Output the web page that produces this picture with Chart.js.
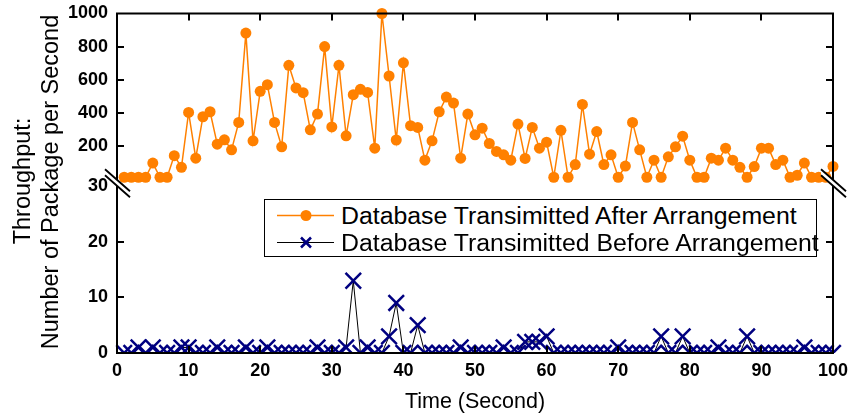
<!DOCTYPE html>
<html><head><meta charset="utf-8">
<script src="https://cdn.jsdelivr.net/npm/chart.js@4/dist/chart.umd.min.js"></script>
<style>
html,body{margin:0;padding:0;background:#fff;}
#wrap{position:relative;width:853px;height:419px;overflow:hidden;font-family:Arial,"Liberation Sans",sans-serif;color:#000;}
#c{position:absolute;left:0;top:0;}
.rot{position:absolute;white-space:nowrap;transform:translate(-50%,-50%) rotate(-90deg);font-size:23.5px;line-height:1;}
#legend{position:absolute;left:264px;top:199px;width:553px;height:58px;border:1px solid #000;background:#fff;box-sizing:border-box;}
.row{position:absolute;left:0;height:27px;width:100%;}
.row svg{position:absolute;left:11px;top:0;}
.row span{position:absolute;left:76px;top:1px;font-size:23px;line-height:26px;white-space:nowrap;transform:scaleX(1.08);transform-origin:0 50%;}
</style></head>
<body><div id="wrap">
<canvas id="c" width="853" height="419"></canvas>
<div class="rot" style="left:23px;top:181px;">Throughput:</div>
<div class="rot" style="left:51px;top:182px;">Number of Package per Second</div>
<div id="legend">
  <div class="row" style="top:2px"><svg width="62" height="27"><line x1="1" y1="13.5" x2="58" y2="13.5" stroke="#FF8000" stroke-width="1.5"/><circle cx="30" cy="13.5" r="5.5" fill="#FF8000"/></svg><span id="l1"></span></div>
  <div class="row" style="top:29px"><svg width="62" height="27"><line x1="1" y1="13.5" x2="58" y2="13.5" stroke="#000" stroke-width="1"/><path d="M25 8.5 L35 18.5 M35 8.5 L25 18.5" stroke="#000080" stroke-width="2.5"/></svg><span id="l2"></span></div>
</div>
</div>
<script>
// ---- data ----
const seriesNames = ["Database Transimitted After Arrangement", "Database Transimitted Before Arrangement"];
const seconds = [1,2,3,4,5,6,7,8,9,10,11,12,13,14,15,16,17,18,19,20,21,22,23,24,25,26,27,28,29,30,31,32,33,34,35,36,37,38,39,40,41,42,43,44,45,46,47,48,49,50,51,52,53,54,55,56,57,58,59,60,61,62,63,64,65,66,67,68,69,70,71,72,73,74,75,76,77,78,79,80,81,82,83,84,85,86,87,88,89,90,91,92,93,94,95,96,97,98,99,100];
const afterArrangement = [15,15,15,15,100,15,15,145,75,405,130,379,409,214,240,180,345,882,234,532,572,345,198,688,552,524,300,395,801,318,688,264,512,544,525,190,1000,624,239,703,325,315,118,234,409,497,461,130,395,270,310,218,170,150,118,335,128,315,190,226,15,297,15,91,453,154,290,91,150,15,82,345,180,15,118,15,138,198,262,118,15,15,130,118,190,118,75,15,79,190,190,91,118,15,27,100,15,15,15,80];
const beforeArrangement = [0,0,1,0,1,0,0,0,1,1,0,0,0,1,0,0,0,1,0,0,1,0,0,0,0,0,0,1,0,0,0,1,13,0,1,0,0,3,9,0,0,5,0,0,0,0,0,1,0,0,0,0,0,1,0,0,2,2,2,3,0,0,0,0,0,0,0,0,0,1,0,0,0,0,0,3,0,0,3,0,0,0,0,1,0,0,0,3,0,0,0,0,0,0,0,1,0,0,0,0];
const xTicks = [0,10,20,30,40,50,60,70,80,90,100];
const upperTicks = [200,400,600,800,1000];
const lowerTicks = [0,10,20,30];

document.getElementById('l1').textContent = seriesNames[0];
document.getElementById('l2').textContent = seriesNames[1];

const tickFont = {family:'Arial, "Liberation Sans", sans-serif', size:18, weight:'bold'};

const frame = {
  id:'frame',
  afterDraw(chart){
    const {ctx, chartArea:a, scales} = chart;
    ctx.save();
    ctx.strokeStyle='#000'; ctx.lineWidth=2; ctx.lineCap='butt';
    ctx.strokeRect(a.left,a.top,a.right-a.left,a.bottom-a.top);
    const L=7;
    ctx.beginPath();
    scales.yTop.ticks.forEach(t=>{
      const y=Math.round(scales.yTop.getPixelForValue(t.value));
      if (y<=a.top+2) return;
      ctx.moveTo(a.left,y);ctx.lineTo(a.left+L,y);
      ctx.moveTo(a.right,y);ctx.lineTo(a.right-L,y);
    });
    scales.yBot.ticks.forEach(t=>{
      const y=Math.round(scales.yBot.getPixelForValue(t.value));
      if (y>=a.bottom-2 || t.value>=30) return;
      ctx.moveTo(a.left,y);ctx.lineTo(a.left+L,y);
      ctx.moveTo(a.right,y);ctx.lineTo(a.right-L,y);
    });
    scales.x.ticks.forEach(t=>{
      const x=Math.round(scales.x.getPixelForValue(t.value));
      if (x<=a.left+2||x>=a.right-2) return;
      ctx.moveTo(x,a.bottom);ctx.lineTo(x,a.bottom-L);
      ctx.moveTo(x,a.top);ctx.lineTo(x,a.top+L);
    });
    ctx.stroke();
    // axis break marks
    const yb = scales.yBot.top - 3;
    [a.left, a.right].forEach(xc=>{
      ctx.save();
      ctx.translate(xc,yb);
      ctx.fillStyle='#fff';
      ctx.beginPath();
      ctx.moveTo(-12,-14);ctx.lineTo(13,8);ctx.lineTo(13,14);ctx.lineTo(-12,-8);ctx.closePath();
      ctx.fill();
      ctx.strokeStyle='#000';ctx.lineWidth=1.8;
      ctx.beginPath();
      ctx.moveTo(-12,-14);ctx.lineTo(13,8);
      ctx.moveTo(-12,-8);ctx.lineTo(13,14);
      ctx.stroke();
      ctx.restore();
    });
    ctx.restore();
  }
};

const fixY = s=>{ s.width=117; s.paddingTop=0; s.paddingBottom=0; };
const plain = v=>String(v);
new Chart(document.getElementById('c'), {
  type:'line',
  data:{
    datasets:[
      {label:seriesNames[0], yAxisID:'yTop', data:seconds.map((x,i)=>({x, y:afterArrangement[i]})),
       borderColor:'#FF8000', backgroundColor:'#FF8000', borderWidth:1.5,
       pointStyle:'circle', pointRadius:5.5, pointBorderWidth:0, tension:0, clip:false},
      {label:seriesNames[1], yAxisID:'yBot', data:seconds.map((x,i)=>({x, y:beforeArrangement[i]})),
       borderColor:'#000', borderWidth:1, backgroundColor:'#000080',
       pointStyle:'crossRot', pointRadius:11, pointBorderColor:'#000080', pointBorderWidth:2.5,
       tension:0, clip:{left:false,right:false,top:false,bottom:0}}
    ]
  },
  options:{
    responsive:false, animation:false, devicePixelRatio:1,
    layout:{padding:{left:0,top:11,right:20,bottom:0}},
    plugins:{legend:{display:false}, tooltip:{enabled:false}},
    scales:{
      x:{type:'linear', min:0, max:100, position:'bottom',
         afterBuildTicks:s=>{ s.ticks = xTicks.map(v=>({value:v})); },
         afterFit:s=>{ s.height=66; s.paddingLeft=0; s.paddingRight=0; },
         grid:{display:false, drawTicks:false}, border:{display:false},
         ticks:{font:tickFont, color:'#000', padding:7, maxRotation:0, autoSkip:false, callback:plain},
         title:{display:true, text:'Time (Second)', color:'#000', font:{family:'Arial, "Liberation Sans", sans-serif', size:21.5}, padding:{top:0,bottom:4}}},
      yBot:{type:'linear', position:'left', stack:'s', stackWeight:168, min:0, max:30, offset:false,
         afterBuildTicks:s=>{ s.ticks = lowerTicks.map(v=>({value:v})); },
         afterFit:fixY,
         grid:{display:false, drawTicks:false}, border:{display:false},
         ticks:{font:tickFont, color:'#000', padding:9, callback:plain}},
      yTop:{type:'linear', position:'left', stack:'s', stackWeight:174, min:-39, max:1000, offset:false,
         afterBuildTicks:s=>{ s.ticks = upperTicks.map(v=>({value:v})); },
         afterFit:fixY,
         grid:{display:false, drawTicks:false}, border:{display:false},
         ticks:{font:tickFont, color:'#000', padding:9, callback:plain}}
    }
  },
  plugins:[frame]
});
</script>
</body></html>
